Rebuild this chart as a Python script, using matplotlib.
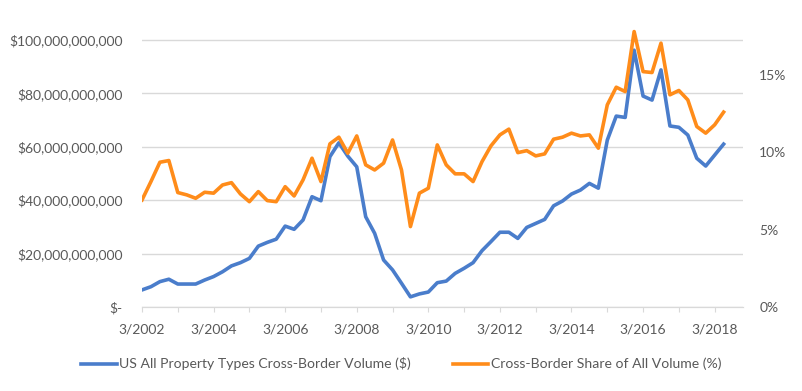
import matplotlib.pyplot as plt
from matplotlib.ticker import FuncFormatter

# quarterly data, 3/2002 .. 6/2018
quarters = [f"{m}/{y}" for y in range(2002, 2019) for m in (3, 6, 9, 12)][:66]

volume_bn = [6.4, 7.6, 9.5, 10.4, 8.6, 8.6, 8.6, 10.1, 11.4, 13.2,
             15.4, 16.6, 18.2, 22.8, 24.2, 25.4, 30.3, 29.1, 32.6, 41.3,
             39.8, 56.3, 61.5, 56.5, 52.5, 33.8, 27.6, 17.6, 13.9, 8.9,
             3.8, 4.9, 5.6, 9.1, 9.7, 12.6, 14.5, 16.6, 21.1, 24.5,
             28.0, 28.0, 25.7, 29.8, 31.3, 32.8, 37.9, 39.7, 42.3, 43.8,
             46.3, 44.5, 62.5, 71.5, 71.0, 96.2, 79.0, 77.5, 88.8, 67.8,
             67.3, 64.4, 55.7, 52.8, 56.9, 61.0]

share_pct = [6.92, 8.11, 9.36, 9.47, 7.40, 7.25, 7.03, 7.42, 7.36, 7.89,
             8.04, 7.31, 6.81, 7.46, 6.88, 6.81, 7.78, 7.18, 8.22, 9.62,
             8.11, 10.55, 10.98, 9.94, 11.06, 9.19, 8.86, 9.30, 10.80, 8.86,
             5.20, 7.36, 7.68, 10.48, 9.19, 8.61, 8.61, 8.11, 9.40, 10.42,
             11.13, 11.50, 9.98, 10.11, 9.77, 9.90, 10.85, 10.98, 11.24, 11.06,
             11.13, 10.27, 13.07, 14.21, 13.93, 17.81, 15.22, 15.16, 17.06, 13.72,
             14.00, 13.39, 11.67, 11.24, 11.78, 12.60]

blue = '#4A7DCB'
orange = '#FF8C1A'
grey = '#595959'

plt.rcParams['font.family'] = ['Lato', 'DejaVu Sans']
plt.rcParams['font.size'] = 10

fig = plt.figure(figsize=(8.03, 3.91), dpi=100)
ax = fig.add_axes([142 / 803, 84 / 391, (743.3 - 142) / 803, 307 / 391])
ax2 = ax.twinx()

x = list(range(len(quarters)))
vol = [v * 1e9 for v in volume_bn]
share = [s / 100 for s in share_pct]

l1, = ax.plot(x, vol, color=blue, lw=2.6, solid_joinstyle='round', zorder=3,
              label='US All Property Types Cross-Border Volume ($)')
l2, = ax2.plot(x, share, color=orange, lw=2.6, solid_joinstyle='round', zorder=3,
               label='Cross-Border Share of All Volume (%)')

# left axis
ax.set_ylim(0, 307 / 53.4 * 20e9)
ax.set_yticks([0, 20e9, 40e9, 60e9, 80e9, 100e9])
ax.yaxis.set_major_formatter(FuncFormatter(lambda v, p: '$-' if v == 0 else f'${v:,.0f}'))
ax.grid(axis='y', color='#D9D9D9', lw=1)
ax.set_axisbelow(True)

# right axis
ax2.set_ylim(0, 307 / 77.33 * 0.05)
ax2.set_yticks([0, 0.05, 0.10, 0.15])
ax2.yaxis.set_major_formatter(FuncFormatter(lambda v, p: f'{v * 100:.0f}%'))

# x axis
ax.set_xlim(0, 67.2)
ax.set_xticks(range(0, 65, 4))
ax.set_xticklabels([quarters[i] if i % 8 == 0 else '' for i in range(0, 65, 4)])
ax.tick_params(axis='x', length=3.6, color='#D9D9D9', labelcolor=grey, pad=8)
ax.tick_params(axis='y', length=0, colors=grey, pad=14)
ax2.tick_params(axis='y', length=0, colors=grey, pad=11.5)

for a in (ax, ax2):
    for side in ('top', 'left', 'right'):
        a.spines[side].set_visible(False)
    a.spines['bottom'].set_color('#D9D9D9')

fig.legend(handles=[l1, l2], loc='center', bbox_to_anchor=(401.5 / 803, 1 - 364 / 391),
           ncol=2, frameon=False, fontsize=10.1, handlelength=2.5, handletextpad=0.2,
           columnspacing=3.0, labelcolor=grey)

fig.savefig('out.png', dpi=100)
